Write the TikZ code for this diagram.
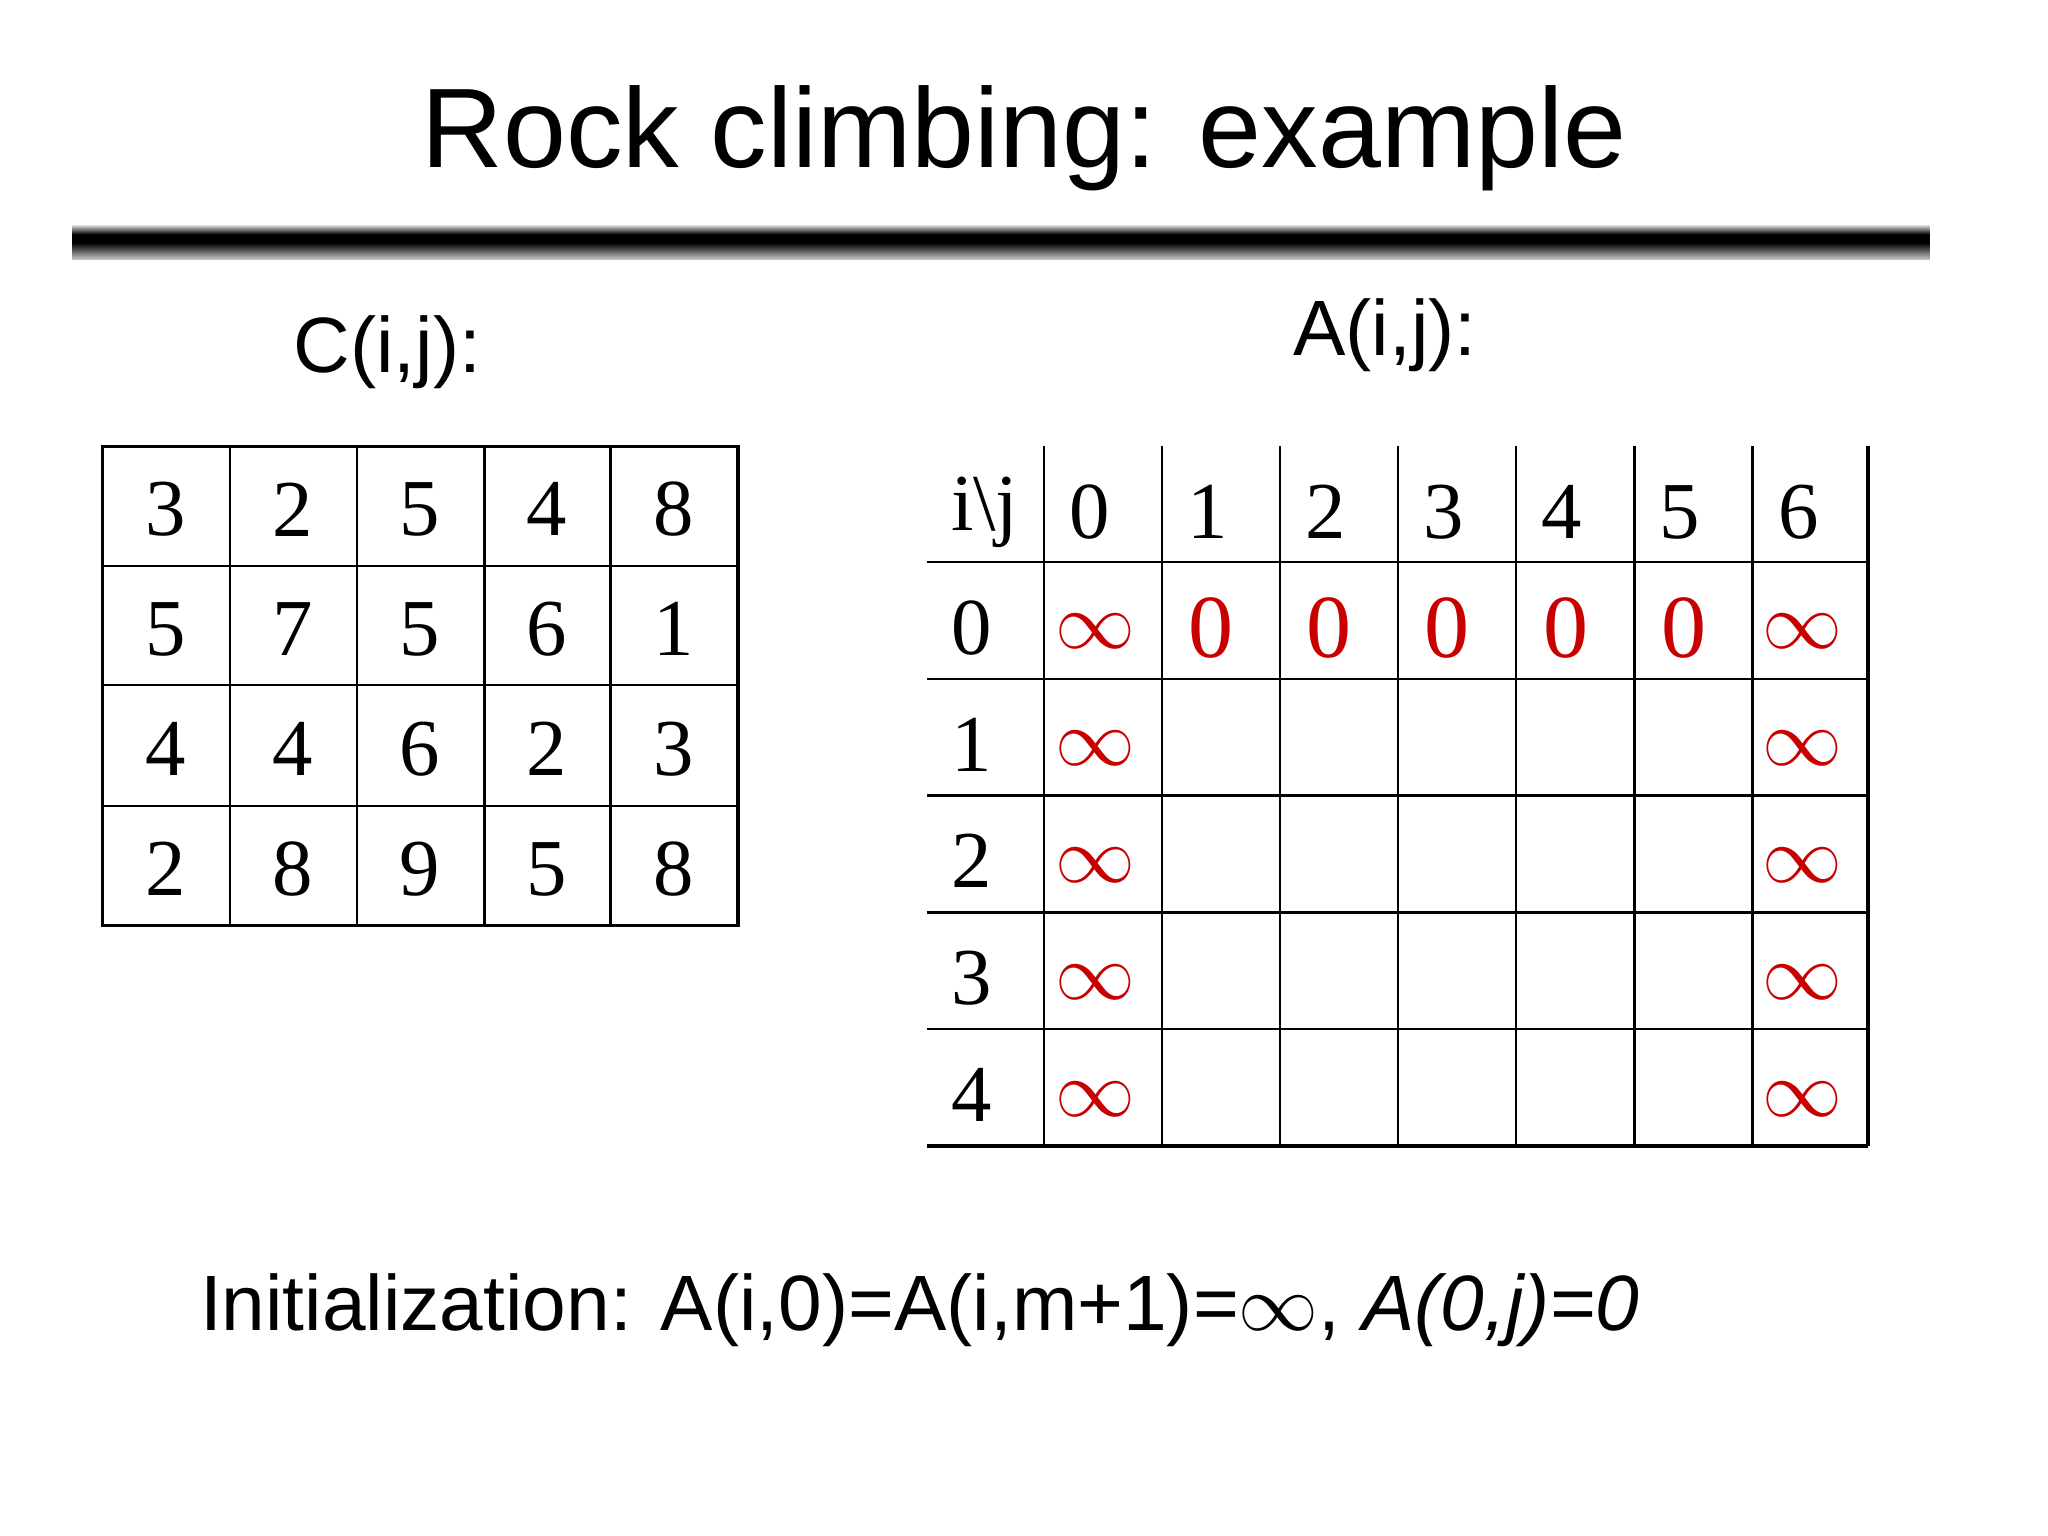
\documentclass[tikz,border=0pt]{standalone}
\usepackage{fontspec}
\setmainfont{Liberation Serif}
\newfontfamily\sansf{Liberation Sans}
\definecolor{myred}{RGB}{200,0,0}
\begin{document}
\begin{tikzpicture}[x=0.01cm,y=-0.01cm,
  cnum/.style={font=\fontsize{17.5}{17.5}\selectfont},
  anum/.style={font=\fontsize{17.5}{17.5}\selectfont,anchor=west},
  rinf/.style={text=myred,font=\fontsize{16}{16}\selectfont},
  rzero/.style={text=myred,anchor=west,font=\fontsize{19.5}{19.5}\selectfont},
  grid/.style={line width=0.5pt}]
\useasboundingbox (0,0) rectangle (1560,1170);
\node[font=\sansf\fontsize{24.5}{24.5}\selectfont] (title) at (780,105) {Rock climbing: example};
\shade[top color=gray!40,bottom color=black,middle color=black] (55,172) rectangle (1470,185);
\shade[top color=black,bottom color=gray!40] (55,185) rectangle (1470,198);
\node[font=\sansf\fontsize{17}{17}\selectfont] (cl) at (295,268) {C(i,j):};
\node[font=\sansf\fontsize{17}{17}\selectfont] (al) at (1055,255) {A(i,j):};
% C table
\draw[line width=0.8pt] (78,340) rectangle (562,705);
\foreach \x in {175,272,369,465} \draw[grid] (\x,340) -- (\x,705);
\foreach \y in {431,522,614} \draw[grid] (78,\y) -- (562,\y);
\foreach \r/\row in {0/{3,2,5,4,8},1/{5,7,5,6,1},2/{4,4,6,2,3},3/{2,8,9,5,8}}{
  \foreach \v [count=\c from 0] in \row
    \node[cnum] (c\r\c) at ({126+96.8*\c},{388+91.3*\r}) {\v};
}
% A table
\foreach \x in {795,885,975,1065,1155,1245,1335} \draw[grid] (\x,340) -- (\x,873);
\draw[line width=0.9pt] (1423,340) -- (1423,873);
\foreach \y in {428,517,606,695,784} \draw[grid] (706,\y) -- (1423,\y);
\draw[line width=1pt] (706,873) -- (1423,873);
\node[anum] (h) at (712,390) {i\textbackslash j};
\foreach \j [count=\c from 0] in {0,1,2,3,4,5,6}
  \node[anum] (hc\c) at ({802+90*\c},390) {\j};
\foreach \i in {0,...,4}{
  \node[anum] (hr\i) at ({712},{478+89*\i}) {\i};
  \node[rinf] (l\i) at ({834},{481+89*\i}) {$\infty$};
  \node[rinf] (r\i) at ({1373},{481+89*\i}) {$\infty$};
}
\foreach \c in {1,...,5}
  \node[rzero] (z\c) at ({893+90*(\c-1)},478) {0};
\node[anchor=west,font=\sansf\fontsize{17}{17}\selectfont] (init) at (140,998)
  {Initialization: A(i,0)=A(i,m+1)=$\infty$, \textit{A(0,j)=0}};
\end{tikzpicture}
\end{document}
